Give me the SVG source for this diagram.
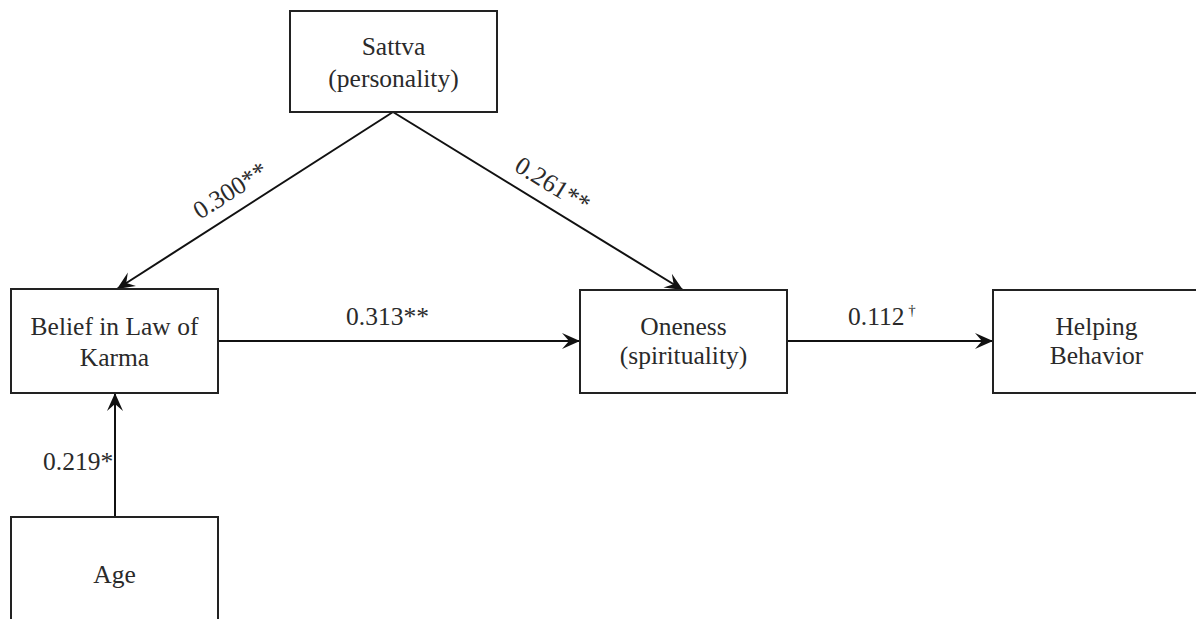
<svg xmlns="http://www.w3.org/2000/svg" width="1196" height="619" viewBox="0 0 1196 619">
<style>
.box{fill:#fff;stroke:#222;stroke-width:2}
.t{font-family:'Liberation Serif','Times New Roman',Times,serif;font-size:25.5px;fill:#2a2a2a;text-anchor:middle}
.lbl{font-family:'Liberation Serif','Times New Roman',Times,serif;font-size:25.5px;fill:#2a2a2a}
.c{stroke:#111;stroke-width:2;fill:none;marker-end:url(#ah)}
</style>
<defs>
<marker id="ah" markerUnits="userSpaceOnUse" markerWidth="20" markerHeight="18" refX="18" refY="8" orient="auto" viewBox="0 0 20 18">
<path d="M18,8 L0,0 L7,8 L0,16 Z" fill="#111"/>
</marker>
</defs>
<rect width="1196" height="619" fill="#fff"/>
<g id="connectors">
<line class="c" x1="393" y1="112" x2="117" y2="289"/>
<line class="c" x1="393" y1="112" x2="683" y2="290"/>
<line class="c" x1="218" y1="341" x2="580" y2="341"/>
<line class="c" x1="787" y1="341" x2="993" y2="341"/>
<line class="c" x1="115" y1="517" x2="115" y2="393"/>
<text class="lbl" transform="translate(200,220) rotate(-32.7)">0.300**</text>
<text class="lbl" transform="translate(513,170) rotate(31.5)">0.261**</text>
<text class="lbl" x="346" y="325">0.313**</text>
<text class="lbl" x="848" y="325">0.112<tspan font-size="15" dy="-10"> †</tspan></text>
<text class="lbl" x="43" y="470">0.219*</text>
</g>
<g id="sattva">
<rect class="box" x="290" y="11" width="207" height="101"/>
<text class="t" x="393.5" y="55">Sattva</text>
<text class="t" x="393.5" y="87">(personality)</text>
</g>
<g id="karma">
<rect class="box" x="11" y="289" width="207" height="104"/>
<text class="t" x="114.5" y="335">Belief in Law of</text>
<text class="t" x="114.5" y="366">Karma</text>
</g>
<g id="oneness">
<rect class="box" x="580" y="290" width="207" height="103"/>
<text class="t" x="683.5" y="335">Oneness</text>
<text class="t" x="683.5" y="364">(spirituality)</text>
</g>
<g id="helping">
<rect class="box" x="993" y="290" width="207" height="103"/>
<text class="t" x="1096.5" y="335">Helping</text>
<text class="t" x="1096.5" y="364">Behavior</text>
</g>
<g id="age">
<rect class="box" x="11" y="517" width="207" height="110"/>
<text class="t" x="114.5" y="583">Age</text>
</g>
</svg>
